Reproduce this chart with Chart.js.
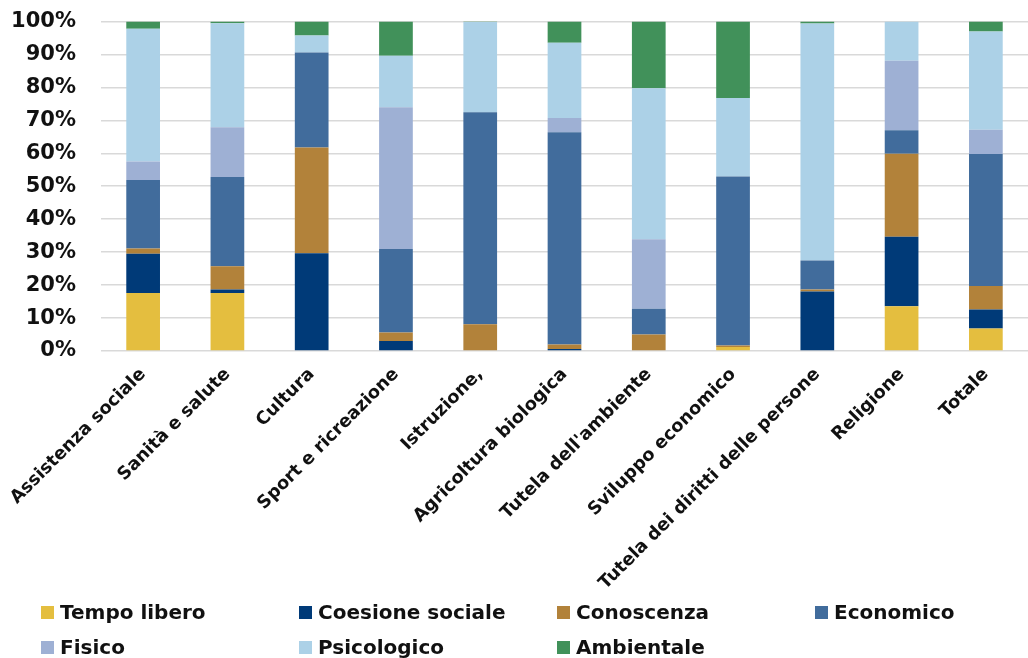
<!DOCTYPE html>
<html>
<head>
<meta charset="utf-8">
<script src="https://cdn.jsdelivr.net/npm/chart.js@4/dist/chart.umd.min.js"></script>
<style>
  html, body { margin: 0; padding: 0; background: #fff; }
  #wrap { position: relative; width: 1028px; height: 658px; overflow: hidden; }
  #chart { position: absolute; left: 0; top: -16px; }
  #legend { position: absolute; left: 0; top: 0; width: 1028px; height: 658px; pointer-events: none; }
  .item { position: absolute; display: flex; align-items: center; font: bold 20px "DejaVu Sans", sans-serif; color: #111; white-space: nowrap; }
  .item span.box { width: 13px; height: 13px; margin-right: 6px; display: inline-block; }
</style>
</head>
<body>
<div id="wrap">
  <canvas id="chart" width="1028" height="674"></canvas>
  <div id="legend"></div>
</div>
<script>
const categories = ["Assistenza sociale", "Sanità e salute", "Cultura", "Sport e ricreazione", "Istruzione,",
    "Agricoltura biologica", "Tutela dell'ambiente", "Sviluppo economico", "Tutela dei diritti delle persone",
    "Religione", "Totale"];

const tempoLibero     = [17.6, 17.6, 0, 0, 0, 0, 0, 1.2, 0, 13.6, 6.8];
const coesioneSociale = [11.9, 1.1, 29.7, 3.0, 0, 0.6, 0, 0, 18.1, 21.1, 5.8];
const conoscenza      = [1.6, 7.0, 32.1, 2.6, 8.1, 1.4, 5.0, 0.5, 0.6, 25.2, 7.1];
const economico       = [20.8, 27.1, 28.8, 25.4, 64.4, 64.4, 7.8, 51.3, 8.8, 7.1, 40.1];
const fisico          = [5.6, 15.1, 0, 43.0, 0, 4.3, 21.1, 0, 0, 21.1, 7.4];
const psicologico     = [40.3, 31.6, 5.2, 15.6, 27.4, 22.9, 45.9, 23.8, 71.9, 11.9, 29.8];
const ambientale      = [2.2, 0.5, 4.2, 10.4, 0.1, 6.4, 20.2, 23.2, 0.6, 0, 3.0];

const yTicks = [0, 10, 20, 30, 40, 50, 60, 70, 80, 90, 100];

const series = [
    { label: "Tempo libero", data: tempoLibero, color: "#E4BE3F" },
    { label: "Coesione sociale", data: coesioneSociale, color: "#003A78" },
    { label: "Conoscenza", data: conoscenza, color: "#B2823A" },
    { label: "Economico", data: economico, color: "#416C9C" },
    { label: "Fisico", data: fisico, color: "#9EB0D4" },
    { label: "Psicologico", data: psicologico, color: "#ACD1E7" },
    { label: "Ambientale", data: ambientale, color: "#41915A" }
];

const ctx = document.getElementById("chart").getContext("2d");
const chart = new Chart(ctx, {
    type: "bar",
    data: {
        labels: categories,
        datasets: series.map(s => ({
            label: s.label,
            data: s.data,
            backgroundColor: s.color,
            borderWidth: 0,
            barPercentage: 0.4,
            categoryPercentage: 1
        }))
    },
    options: {
        responsive: false,
        animation: false,
        layout: { padding: { top: 5, right: 0, left: 0, bottom: 0 } },
        plugins: {
            legend: { display: false },
            tooltip: { enabled: false }
        },
        scales: {
            x: {
                stacked: true,
                grid: { display: false },
                border: { display: false },
                ticks: {
                    color: "#111",
                    font: { family: "DejaVu Sans", size: 17.8, weight: "bold" },
                    minRotation: 45,
                    maxRotation: 45,
                    autoSkip: false,
                    padding: 5
                },
                afterFit: (scale) => { scale.height = 307; }
            },
            y: {
                stacked: true,
                min: 0,
                max: 100,
                afterBuildTicks: (scale) => { scale.ticks = yTicks.map(v => ({ value: v })); },
                grid: { color: "#d9d9d9", lineWidth: 1.6, drawTicks: false },
                border: { display: false },
                ticks: {
                    color: "#111",
                    font: { family: "DejaVu Sans", size: 21, weight: "bold" },
                    padding: 25,
                    callback: (v) => v + "%"
                },
                afterFit: (scale) => { scale.width = 101; }
            }
        }
    }
});

// legend laid out in fixed columns like the original
const legendDiv = document.getElementById("legend");
const colX = [41, 299, 557, 815];
const rowY = [612, 647];
series.forEach((s, i) => {
    const el = document.createElement("div");
    el.className = "item";
    el.style.left = colX[i % 4] + "px";
    el.style.top = (rowY[Math.floor(i / 4)] - 13) + "px";
    el.style.height = "26px";
    el.innerHTML = `<span class="box" style="background:${s.color}"></span>${s.label}`;
    legendDiv.appendChild(el);
});
</script>
</body>
</html>
